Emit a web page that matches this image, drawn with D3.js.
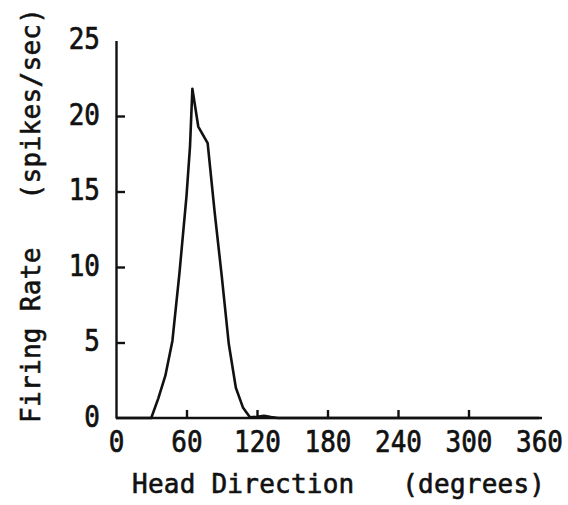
<!DOCTYPE html>
<html>
<head>
<meta charset="utf-8">
<script src="https://cdn.jsdelivr.net/npm/d3@7"></script>
<style>
  body { margin: 0; background: #fff; }
  svg text { font-family: "DejaVu Sans Mono", "Liberation Mono", monospace; fill: #111; stroke: #111; stroke-width: 0.6px; white-space: pre; }
</style>
</head>
<body>
<svg id="chart" width="568" height="505"></svg>
<script>
///////////////////////////////////////////////////////////
// Data
const headDirection = [0, 30, 36, 42, 48, 54, 60, 63, 65, 70, 78, 84, 90, 96, 102, 108, 114, 120, 126, 132, 138, 360];
const firingRate = [0, 0, 1.3, 2.8, 5.1, 9.6, 14.7, 18, 21.8, 19.3, 18.2, 13.6, 9.4, 4.9, 2.0, 0.7, 0.05, 0.08, 0.14, 0.06, 0, 0];

const xTicks = [0, 60, 120, 180, 240, 300, 360];
const yTicks = [0, 5, 10, 15, 20, 25];
const xTitle = "Head Direction   (degrees)";
const yTitle = "Firing Rate   (spikes/sec)";

///////////////////////////////////////////////////////////
// Scales
const svg = d3.select("#chart");
const x = d3.scaleLinear().domain([0, 360]).range([116, 539]);
const y = d3.scaleLinear().domain([0, 25]).range([418, 40.5]);

const points = headDirection.map((d, i) => ({ deg: d, rate: firingRate[i] }));

///////////////////////////////////////////////////////////
// Axes (ticks point inward)
const xAxis = svg.append("g")
  .attr("transform", `translate(0,${y(0)})`)
  .call(d3.axisBottom(x).tickValues(xTicks).tickSizeInner(-8).tickSizeOuter(0).tickPadding(10));

xAxis.select(".domain").attr("d", `M${x(0)},0H${x(360) + 3}`);

const yAxis = svg.append("g")
  .attr("transform", `translate(${x(0)},0)`)
  .call(d3.axisLeft(y).tickValues(yTicks).tickSizeInner(-9).tickSizeOuter(0).tickPadding(16));

svg.selectAll(".domain")
  .attr("stroke", "#111")
  .attr("stroke-width", 2.4);

svg.selectAll(".tick line")
  .attr("stroke", "#111")
  .attr("stroke-width", 2.4)
  .attr("display", d => (d === 0 || d === 25 || d === 360) ? "none" : null);

// plotter digits are taller than they are wide
svg.selectAll(".tick text")
  .attr("font-size", 26)
  .attr("fill", "#111")
  .attr("transform", "scale(1,1.18)");
yAxis.selectAll(".tick text").attr("dy", "0.27em");

///////////////////////////////////////////////////////////
// Tuning curve
const line = d3.line()
  .x(d => x(d.deg))
  .y(d => y(d.rate));

svg.append("path")
  .datum(points)
  .attr("d", line)
  .attr("fill", "none")
  .attr("stroke", "#111")
  .attr("stroke-width", 2.6)
  .attr("stroke-linejoin", "round");

///////////////////////////////////////////////////////////
// Axis titles
svg.append("text")
  .attr("x", 132)
  .attr("y", 493)
  .attr("font-size", 26)
  .attr("textLength", 413)
  .attr("lengthAdjust", "spacing")
  .text(xTitle);

svg.append("text")
  .attr("transform", "translate(40,423) rotate(-90)")
  .attr("font-size", 26)
  .attr("textLength", 415)
  .attr("lengthAdjust", "spacing")
  .text(yTitle);
</script>
</body>
</html>
